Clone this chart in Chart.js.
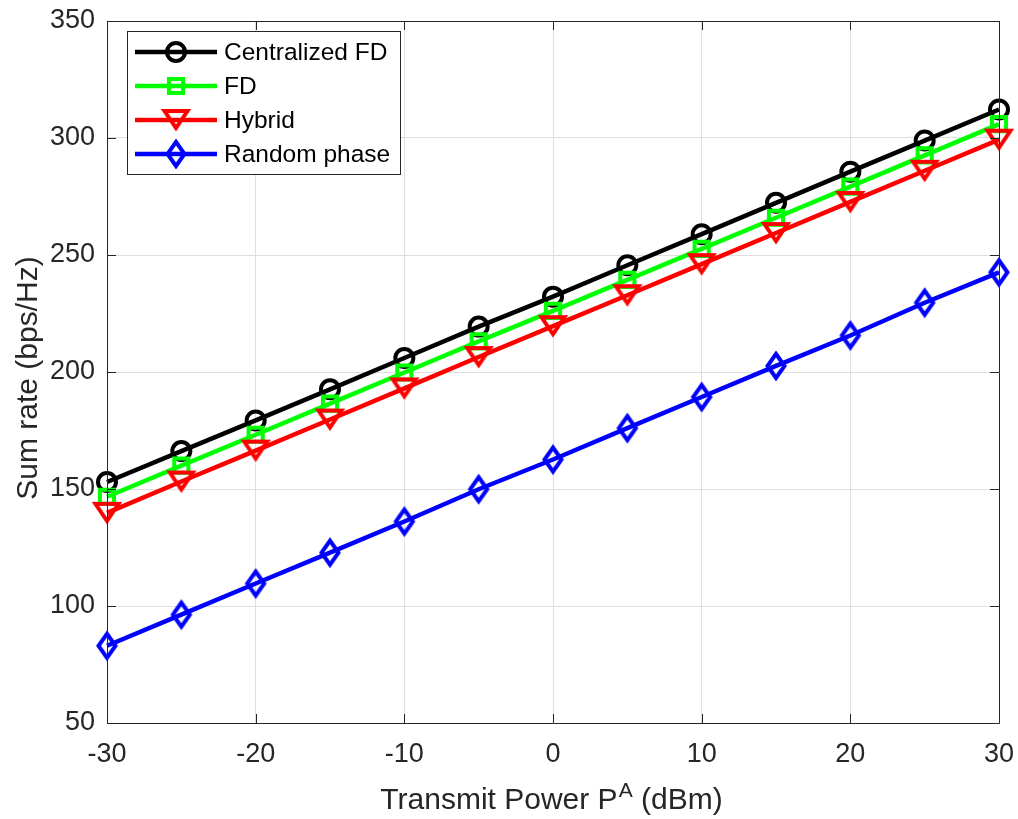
<!DOCTYPE html>
<html><head><meta charset="utf-8">
<script src="https://cdn.jsdelivr.net/npm/chart.js@4.4.0/dist/chart.umd.min.js"></script>
<style>html,body{margin:0;padding:0;background:#fff;}#wrap{width:1018px;height:819px;}</style>
</head><body><div id="wrap"><canvas id="c" width="1018" height="819"></canvas></div>
<script>
const powerDbm = [-30, -25, -20, -15, -10, -5, 0, 5, 10, 15, 20, 25, 30];
const centralizedFD = [153, 166.2, 179.3, 192.6, 206, 219.4, 232.2, 245.6, 258.9, 272.3, 285.6, 298.9, 312.2];
const fdValues = [146.7, 160, 173.2, 186.5, 199.8, 213.1, 226.1, 239.4, 252.6, 265.9, 279.2, 292.6, 305.9];
const hybridValues = [139.8, 153.2, 166.4, 179.7, 193, 206.4, 219.6, 232.8, 246.1, 259.4, 272.7, 286, 299.3];
const randomPhase = [83, 96.3, 109.6, 122.8, 136.1, 149.9, 162.6, 176, 189.3, 202.6, 215.6, 229.6, 242.6];
const seriesNames = ['Centralized FD', 'FD', 'Hybrid', 'Random phase'];
const xTicks = [-30, -20, -10, 0, 10, 20, 30];
const xTickLabels = ['-30', '-20', '-10', '0', '10', '20', '30'];
const yTicks = [50, 100, 150, 200, 250, 300, 350];
const yTickLabels = ['50', '100', '150', '200', '250', '300', '350'];
const xTitleMain = 'Transmit Power P';
const xTitleSup = 'A';
const xTitleEnd = ' (dBm)';
const yTitle = 'Sum rate (bps/Hz)';

const AX = '#262626';
const FONT = '"Liberation Sans", Arial, Helvetica, sans-serif';
const MW = 4; // marker stroke width

function makeMarker(w, h, color, pathFn) {
  const c = document.createElement('canvas');
  c.width = w; c.height = h;
  const g = c.getContext('2d');
  g.translate(w / 2, h / 2);
  g.strokeStyle = color; g.lineWidth = MW; g.lineJoin = 'miter';
  g.beginPath(); pathFn(g); g.closePath(); g.stroke();
  return c;
}
const triMarker = makeMarker(36, 34, '#ff0000', g => { g.moveTo(-11.5, -9); g.lineTo(11.5, -9); g.lineTo(0, 8); });
const diaMarker = makeMarker(26, 34, '#0000ff', g => { g.moveTo(0, -12); g.lineTo(8.5, 0); g.lineTo(0, 12); g.lineTo(-8.5, 0); });

const styles = [
  {color: '#000000', pointStyle: 'circle', radius: 9},
  {color: '#00ff00', pointStyle: 'rect', radius: 10},
  {color: '#ff0000', pointStyle: triMarker, radius: 14},
  {color: '#0000ff', pointStyle: diaMarker, radius: 13}
];
const seriesData = [centralizedFD, fdValues, hybridValues, randomPhase];

const datasets = seriesData.map((vals, i) => ({
  label: seriesNames[i],
  data: powerDbm.map((x, k) => ({x: x, y: vals[k]})),
  borderColor: styles[i].color,
  backgroundColor: 'rgba(0,0,0,0)',
  borderWidth: 4.5,
  pointStyle: styles[i].pointStyle,
  pointRadius: styles[i].radius,
  pointBorderWidth: MW,
  pointBorderColor: styles[i].color,
  pointBackgroundColor: 'rgba(0,0,0,0)',
  pointHoverRadius: styles[i].radius,
  tension: 0,
  clip: false,
  order: seriesData.length - i
}));

function zeroPad(s) { s.paddingTop = 0; s.paddingBottom = 0; s.paddingLeft = 0; s.paddingRight = 0; }

const frame = {
  id: 'frame',
  afterDatasetsDraw(chart) {
    const {ctx, chartArea: a, scales} = chart;
    ctx.save();
    ctx.strokeStyle = AX;
    ctx.lineWidth = 1;
    ctx.beginPath();
    ctx.rect(a.left + 0.5, a.top + 0.5, a.right - a.left, a.bottom - a.top);
    ctx.stroke();
    const tl = 9;
    ctx.beginPath();
    xTicks.forEach(v => {
      const px = Math.round(scales.x.getPixelForValue(v)) + 0.5;
      ctx.moveTo(px, a.bottom); ctx.lineTo(px, a.bottom - tl);
      ctx.moveTo(px, a.top); ctx.lineTo(px, a.top + tl);
    });
    yTicks.forEach(v => {
      const py = Math.round(scales.y.getPixelForValue(v)) + 0.5;
      ctx.moveTo(a.left, py); ctx.lineTo(a.left + tl, py);
      ctx.moveTo(a.right, py); ctx.lineTo(a.right - tl, py);
    });
    ctx.stroke();
    ctx.restore();
  },
  afterDraw(chart) {
    const {ctx} = chart;
    ctx.save();
    ctx.fillStyle = AX;
    ctx.textBaseline = 'alphabetic';
    const big = '30px ' + FONT, small = '21px ' + FONT;
    ctx.font = big;
    const w1 = ctx.measureText(xTitleMain).width;
    const w3 = ctx.measureText(xTitleEnd).width;
    ctx.font = small;
    const w2 = ctx.measureText(xTitleSup).width;
    const total = w1 + w2 + w3;
    let x0 = 551 - total / 2;
    const base = 809;
    ctx.textAlign = 'left';
    ctx.font = big; ctx.fillText(xTitleMain, x0, base);
    ctx.font = small; ctx.fillText(xTitleSup, x0 + w1 + 1, base - 12);
    ctx.font = big; ctx.fillText(xTitleEnd, x0 + w1 + w2 + 1, base);
    ctx.save();
    ctx.translate(37, 378);
    ctx.rotate(-Math.PI / 2);
    ctx.textAlign = 'center';
    ctx.font = big;
    ctx.fillText(yTitle, 0, 0);
    ctx.restore();
    // legend
    const L = 127, T = 31, R = 400, B = 174;
    ctx.fillStyle = '#ffffff';
    ctx.fillRect(L, T, R - L, B - T);
    ctx.strokeStyle = AX; ctx.lineWidth = 1;
    ctx.strokeRect(L + 0.5, T + 0.5, R - L, B - T);
    const rows = [52, 86, 120, 154];
    seriesNames.forEach((name, i) => {
      const y = rows[i];
      ctx.strokeStyle = styles[i].color;
      ctx.lineWidth = 4.5;
      ctx.beginPath(); ctx.moveTo(135, y); ctx.lineTo(217, y); ctx.stroke();
      ctx.fillStyle = 'rgba(0,0,0,0)';
      ctx.lineWidth = MW;
      Chart.helpers.drawPoint(ctx, {pointStyle: styles[i].pointStyle, radius: styles[i].radius, rotation: 0, borderWidth: MW}, 176, y);
      ctx.fillStyle = '#000000';
      ctx.font = '24.5px ' + FONT;
      ctx.textAlign = 'left';
      ctx.textBaseline = 'middle';
      ctx.fillText(name, 224, y + 1);
    });
    ctx.restore();
  }
};

new Chart(document.getElementById('c'), {
  type: 'line',
  data: {datasets},
  options: {
    responsive: false,
    animation: false,
    devicePixelRatio: 1,
    layout: {padding: {top: 21, right: 19, left: 0, bottom: 0}},
    plugins: {legend: {display: false}, tooltip: {enabled: false}, title: {display: false}},
    scales: {
      x: {
        type: 'linear', min: -30, max: 30,
        afterBuildTicks: s => { s.ticks = xTicks.map(v => ({value: v})); },
        afterFit: s => { s.height = 96; zeroPad(s); },
        ticks: {callback: v => xTickLabels[xTicks.indexOf(v)], color: AX, font: {size: 27, family: FONT}, padding: 15, maxRotation: 0, autoSkip: false},
        grid: {color: '#dfdfdf', lineWidth: 1, drawTicks: false},
        border: {display: false}
      },
      y: {
        type: 'linear', min: 50, max: 350,
        afterBuildTicks: s => { s.ticks = yTicks.map(v => ({value: v})); },
        afterFit: s => { s.width = 107; zeroPad(s); },
        ticks: {callback: v => yTickLabels[yTicks.indexOf(v)], color: AX, font: {size: 27, family: FONT}, padding: 12, autoSkip: false},
        grid: {color: '#dfdfdf', lineWidth: 1, drawTicks: false},
        border: {display: false}
      }
    }
  },
  plugins: [frame]
});
</script></body></html>
